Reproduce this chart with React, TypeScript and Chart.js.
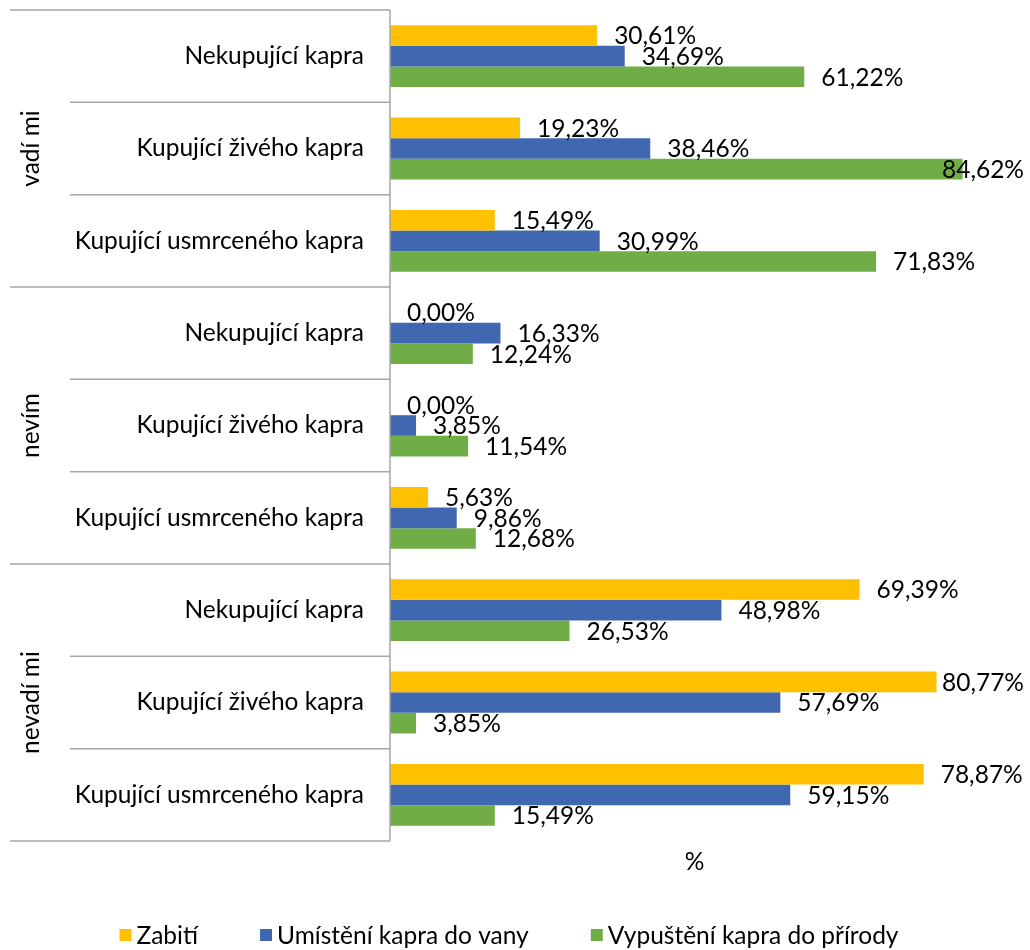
import React, { useEffect, useRef } from "react";
import { Chart, registerables } from "chart.js";

Chart.register(...registerables);

const CATEGORIES = [
  "Nekupující kapra",
  "Kupující živého kapra",
  "Kupující usmrceného kapra",
  "Nekupující kapra",
  "Kupující živého kapra",
  "Kupující usmrceného kapra",
  "Nekupující kapra",
  "Kupující živého kapra",
  "Kupující usmrceného kapra",
];
const GROUPS = ["vadí mi", "nevím", "nevadí mi"];
const SERIES_NAMES = ["Zabití", "Umístění kapra do vany", "Vypuštění kapra do přírody"];
const ZABITI = [30.61, 19.23, 15.49, 0.0, 0.0, 5.63, 69.39, 80.77, 78.87];
const VANA = [34.69, 38.46, 30.99, 16.33, 3.85, 9.86, 48.98, 57.69, 59.15];
const PRIRODA = [61.22, 84.62, 71.83, 12.24, 11.54, 12.68, 26.53, 3.85, 15.49];
const COLORS = ["#FFC000", "#4068B0", "#70AD47"];
const X_TITLE = "%";

const FONT_FAMILY = "Lato, 'Open Sans', sans-serif";
const FONT_SIZE = 24.5;
const TEXT_COLOR = "#000000";
const LINE_COLOR = "#A6A6A6";

const fmt = (v: number) => v.toFixed(2).replace(".", ",") + "%";

const decorPlugin = {
  id: "decor",
  afterDatasetsDraw(chart: any) {
    const ctx = chart.ctx;
    ctx.save();
    ctx.font = `${FONT_SIZE}px ${FONT_FAMILY}`;
    ctx.fillStyle = TEXT_COLOR;
    ctx.textAlign = "left";
    ctx.textBaseline = "middle";
    const limit = chart.width - 6;
    chart.data.datasets.forEach((ds: any, di: number) => {
      const meta = chart.getDatasetMeta(di);
      meta.data.forEach((el: any, i: number) => {
        const txt = fmt(ds.data[i]);
        const w = ctx.measureText(txt).width;
        let x = el.x + 17;
        if (x + w > limit) x = limit - w;
        ctx.fillText(txt, x, el.y + 1);
      });
    });
    ctx.restore();
  },
  afterDraw(chart: any) {
    const ctx = chart.ctx;
    const area = chart.chartArea;
    const n = CATEGORIES.length;
    const step = (area.bottom - area.top) / n;
    ctx.save();
    ctx.strokeStyle = LINE_COLOR;
    ctx.lineWidth = 1.5;
    ctx.beginPath();
    ctx.moveTo(area.left, area.top);
    ctx.lineTo(area.left, area.bottom);
    ctx.stroke();
    for (let i = 0; i <= n; i++) {
      const y = area.top + i * step;
      const xStart = i % 3 === 0 ? 10 : 70;
      ctx.beginPath();
      ctx.moveTo(xStart, y);
      ctx.lineTo(area.left, y);
      ctx.stroke();
    }
    ctx.font = `${FONT_SIZE}px ${FONT_FAMILY}`;
    ctx.fillStyle = TEXT_COLOR;
    ctx.textAlign = "center";
    ctx.textBaseline = "middle";
    GROUPS.forEach((g, gi) => {
      const cy = area.top + (gi * 3 + 1.5) * step;
      ctx.save();
      ctx.translate(31, cy);
      ctx.rotate(-Math.PI / 2);
      ctx.fillText(g, 0, 0);
      ctx.restore();
    });
    ctx.fillText(X_TITLE, (area.left + area.right) / 2, 862);
    const box = 12;
    const gapText = 5;
    const gapItem = 62;
    const widths = chart.data.datasets.map((ds: any) => ctx.measureText(ds.label).width);
    const total =
      widths.reduce((a: number, b: number) => a + b, 0) +
      widths.length * (box + gapText) +
      (widths.length - 1) * gapItem;
    let x = 509 - total / 2;
    const ly = 935;
    ctx.textAlign = "left";
    chart.data.datasets.forEach((ds: any, di: number) => {
      ctx.fillStyle = ds.backgroundColor;
      ctx.fillRect(x, ly - box / 2, box, box);
      x += box + gapText;
      ctx.fillStyle = TEXT_COLOR;
      ctx.fillText(ds.label, x, ly + 1);
      x += widths[di] + gapItem;
    });
    ctx.restore();
  },
};

export default function App() {
  const ref = useRef<HTMLCanvasElement | null>(null);
  useEffect(() => {
    document.body.style.margin = "0";
    if (!ref.current) return;
    const chart = new Chart(ref.current, {
      type: "bar",
      data: {
        labels: CATEGORIES,
        datasets: [
          { label: SERIES_NAMES[0], data: ZABITI, backgroundColor: COLORS[0] },
          { label: SERIES_NAMES[1], data: VANA, backgroundColor: COLORS[1] },
          { label: SERIES_NAMES[2], data: PRIRODA, backgroundColor: COLORS[2] },
        ],
      },
      options: {
        indexAxis: "y",
        responsive: false,
        animation: false,
        maintainAspectRatio: false,
        layout: { padding: { top: 10, bottom: 109, right: 31, left: 0 } },
        datasets: { bar: { barPercentage: 1, categoryPercentage: 0.67 } },
        plugins: { legend: { display: false }, tooltip: { enabled: false } },
        scales: {
          x: { display: false, min: 0, max: 90 },
          y: {
            afterFit: (scale: any) => {
              scale.width = 390;
              scale.paddingTop = 0;
              scale.paddingBottom = 0;
            },
            grid: { display: false, drawTicks: false },
            border: { display: false },
            ticks: {
              padding: 26,
              color: TEXT_COLOR,
              font: { family: FONT_FAMILY, size: FONT_SIZE },
              autoSkip: false,
            },
          },
        },
      },
      plugins: [decorPlugin],
    });
    return () => chart.destroy();
  }, []);
  return (
    <div style={{ width: 1030, height: 950 }}>
      <canvas ref={ref} width={1030} height={950} style={{ display: "block" }} />
    </div>
  );
}
